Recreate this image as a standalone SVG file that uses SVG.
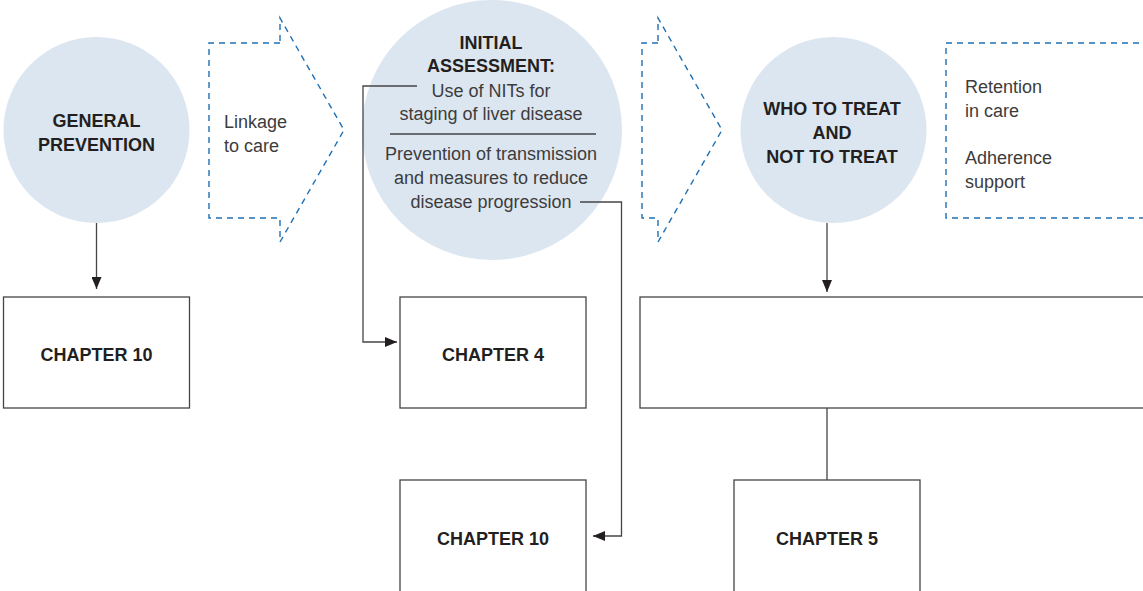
<svg xmlns="http://www.w3.org/2000/svg" width="1143" height="591" viewBox="0 0 1143 591">
<defs>
<style>
.bub{fill:#dce6f1;stroke:none}
.box{fill:#fff;stroke:#454545;stroke-width:1.3}
.dash{fill:none;stroke:#1f70b4;stroke-width:1.4;stroke-dasharray:6,5}
.conn{fill:none;stroke:#454545;stroke-width:1.3}
.b{font-family:"Liberation Sans",Arial,sans-serif;font-weight:bold;font-size:18px;fill:#231f20;text-anchor:middle}
.r{font-family:"Liberation Sans",Arial,sans-serif;font-size:18px;fill:#3c3c3c}
.rc{font-family:"Liberation Sans",Arial,sans-serif;font-size:18px;fill:#3c3c3c;text-anchor:middle}
</style>
<marker id="ah" viewBox="0 0 12 10" refX="12" refY="5" markerWidth="12" markerHeight="10" markerUnits="userSpaceOnUse" orient="auto">
<path d="M0,0 L12,5 L0,10 z" fill="#231f20"/>
</marker>
</defs>

<g id="general-prevention">
<circle class="bub" cx="96.5" cy="130" r="93"/>
<text class="b" x="96.5" y="127">GENERAL</text>
<text class="b" x="96.5" y="151">PREVENTION</text>
</g>

<g id="linkage">
<path class="dash" d="M280,43 H209 V218 H280 V242 L344,130 L280,18 V43"/>
<text class="r" x="224" y="128">Linkage</text>
<text class="r" x="224" y="152">to care</text>
</g>

<g id="initial-assessment">
<circle class="bub" cx="492" cy="130" r="130"/>
<text class="b" x="491" y="49">INITIAL</text>
<text class="b" x="491" y="72">ASSESSMENT:</text>
<text class="rc" x="491" y="97">Use of NITs for</text>
<text class="rc" x="491" y="120">staging of liver disease</text>
<line x1="390" y1="134" x2="596" y2="134" stroke="#454545" stroke-width="1.3"/>
<text class="rc" x="491" y="160">Prevention of transmission</text>
<text class="rc" x="491" y="184">and measures to reduce</text>
<text class="rc" x="491" y="208">disease progression</text>
</g>

<g id="chevron-2">
<path class="dash" d="M658,43 H642 V218 H658 V242 L722,130 L658,18 V43"/>
</g>

<g id="who-to-treat">
<circle class="bub" cx="833.5" cy="130" r="93"/>
<text class="b" x="832" y="115">WHO TO TREAT</text>
<text class="b" x="832" y="139">AND</text>
<text class="b" x="832" y="163">NOT TO TREAT</text>
</g>

<g id="retention">
<path class="dash" d="M1150,43 H946 V218 H1150"/>
<text class="r" x="965" y="93">Retention</text>
<text class="r" x="965" y="117">in care</text>
<text class="r" x="965" y="164">Adherence</text>
<text class="r" x="965" y="188">support</text>
</g>

<g id="ch10-a">
<rect class="box" x="3.5" y="297" width="186" height="111"/>
<text class="b" x="96.5" y="361">CHAPTER 10</text>
</g>

<g id="ch4">
<rect class="box" x="400" y="297" width="186" height="111"/>
<text class="b" x="493" y="361">CHAPTER 4</text>
</g>

<g id="ch10-b">
<rect class="box" x="400" y="480" width="186" height="130"/>
<text class="b" x="493" y="545">CHAPTER 10</text>
</g>

<g id="treat-box">
<rect class="box" x="640" y="297" width="520" height="111"/>
</g>

<g id="ch5">
<rect class="box" x="734" y="480" width="186" height="130"/>
<text class="b" x="827" y="545">CHAPTER 5</text>
</g>

<g id="connectors">
<line class="conn" x1="96.5" y1="223" x2="96.5" y2="289" marker-end="url(#ah)"/>
<polyline class="conn" points="417,86 363,86 363,342 397,342" marker-end="url(#ah)"/>
<polyline class="conn" points="580,202 621.5,202 621.5,536 593,536" marker-end="url(#ah)"/>
<line class="conn" x1="827" y1="223" x2="827" y2="292" marker-end="url(#ah)"/>
<line class="conn" x1="827" y1="408" x2="827" y2="480"/>
</g>
</svg>
